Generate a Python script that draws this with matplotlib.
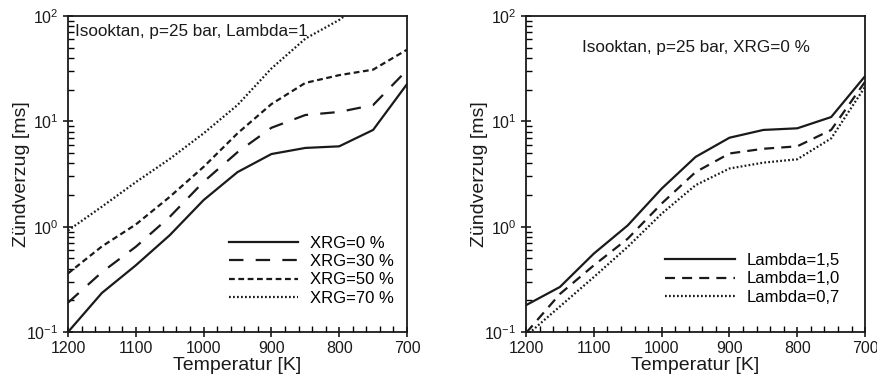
import matplotlib
matplotlib.use("Agg")
import matplotlib.pyplot as plt
from matplotlib.ticker import MultipleLocator, LogLocator, NullFormatter

plt.rcParams['font.family'] = ['Liberation Sans', 'DejaVu Sans']
plt.rcParams['mathtext.fontset'] = 'custom'
plt.rcParams['mathtext.rm'] = 'Liberation Sans'
plt.rcParams['mathtext.it'] = 'Liberation Sans:italic'
plt.rcParams['mathtext.bf'] = 'Liberation Sans:bold'

# Data
temperatures = [1200, 1150, 1100, 1050, 1000, 950, 900, 850, 800, 750, 700]

xrg_labels = ["XRG=0 %", "XRG=30 %", "XRG=50 %", "XRG=70 %"]
xrg_0 = [0.10, 0.235, 0.43, 0.83, 1.79, 3.3, 4.9, 5.6, 5.8, 8.3, 22.6]
xrg_30 = [0.19, 0.37, 0.645, 1.24, 2.67, 5.1, 8.7, 11.5, 12.3, 14.3, 30.7]
xrg_50 = [0.36, 0.65, 1.05, 1.92, 3.7, 7.7, 14.6, 23.2, 27.5, 31.0, 48.0]
xrg_70 = [0.92, 1.55, 2.65, 4.4, 7.7, 14.3, 31.8, 61.0, 92.0, 160.0, 250.0]

lam_labels = ["Lambda=1,5", "Lambda=1,0", "Lambda=0,7"]
lam_15 = [0.18, 0.268, 0.556, 1.03, 2.3, 4.6, 7.0, 8.3, 8.6, 11.0, 26.9]
lam_10 = [0.098, 0.23, 0.43, 0.77, 1.66, 3.3, 4.96, 5.5, 5.8, 8.3, 23.8]
lam_07 = [0.092, 0.175, 0.333, 0.645, 1.33, 2.48, 3.57, 4.06, 4.37, 6.9, 21.3]

title_left = "Isooktan, p=25 bar, Lambda=1"
title_right = "Isooktan, p=25 bar, XRG=0 %"
xlabel = "Temperatur [K]"
ylabel = "Zündverzug [ms]"

fig = plt.figure(figsize=(8.77, 3.83), dpi=100)
axL = fig.add_axes([0.0775, 0.133, 0.3866, 0.825])
axR = fig.add_axes([0.5998, 0.133, 0.3866, 0.825])

lw = 1.6
c = '#1a1a1a'
axL.plot(temperatures, xrg_0, color=c, lw=lw, ls='-', label=xrg_labels[0])
axL.plot(temperatures, xrg_30, color=c, lw=lw, ls=(0, (6.5, 5.5)), label=xrg_labels[1])
axL.plot(temperatures, xrg_50, color=c, lw=lw, ls=(0, (2.6, 1.6)), label=xrg_labels[2])
axL.plot(temperatures, xrg_70, color=c, lw=lw, ls=(0, (0.8, 1.0)), label=xrg_labels[3])

axR.plot(temperatures, lam_15, color=c, lw=lw, ls='-', label=lam_labels[0])
axR.plot(temperatures, lam_10, color=c, lw=lw, ls=(0, (4.5, 3.2)), label=lam_labels[1])
axR.plot(temperatures, lam_07, color=c, lw=lw, ls=(0, (0.8, 1.0)), label=lam_labels[2])

for ax in (axL, axR):
    ax.set_yscale('log')
    ax.set_xlim(1200, 700)
    ax.set_ylim(0.1, 100)
    ax.xaxis.set_major_locator(MultipleLocator(100))
    ax.xaxis.set_minor_locator(MultipleLocator(20))
    ax.yaxis.set_major_locator(LogLocator(base=10, numticks=10))
    ax.yaxis.set_minor_locator(LogLocator(base=10, subs=range(2, 10), numticks=10))
    ax.yaxis.set_minor_formatter(NullFormatter())
    ax.tick_params(axis='both', which='major', direction='inout', length=7, width=1.2,
                   labelsize=11.5, colors='#1a1a1a', top=False, right=False)
    ax.tick_params(axis='both', which='minor', direction='in', length=4, width=1.0,
                   top=False, right=False)
    ax.tick_params(axis='x', which='major', pad=3)
    for s in ax.spines.values():
        s.set_linewidth(1.3)
        s.set_color('#1a1a1a')
    ax.set_xlabel(xlabel, fontsize=14, labelpad=1, color='#1a1a1a')
    ax.set_ylabel(ylabel, fontsize=14, labelpad=-3, color='#1a1a1a')

axL.text(0.02, 0.975, title_left, transform=axL.transAxes, ha='left', va='top',
         fontsize=12.3, color='#1a1a1a')
axR.text(0.5, 0.925, title_right, transform=axR.transAxes, ha='center', va='top',
         fontsize=12.3, color='#1a1a1a')

legL = axL.legend(loc='upper left', bbox_to_anchor=(0.476, 0.305), frameon=False,
                  fontsize=12, handlelength=4.1, handletextpad=0.75, labelspacing=0.2,
                  borderpad=0, borderaxespad=0)
legR = axR.legend(loc='upper left', bbox_to_anchor=(0.41, 0.25), frameon=False,
                  fontsize=12, handlelength=4.2, handletextpad=0.7, labelspacing=0.2,
                  borderpad=0, borderaxespad=0)

fig.savefig('out.png', dpi=100)
